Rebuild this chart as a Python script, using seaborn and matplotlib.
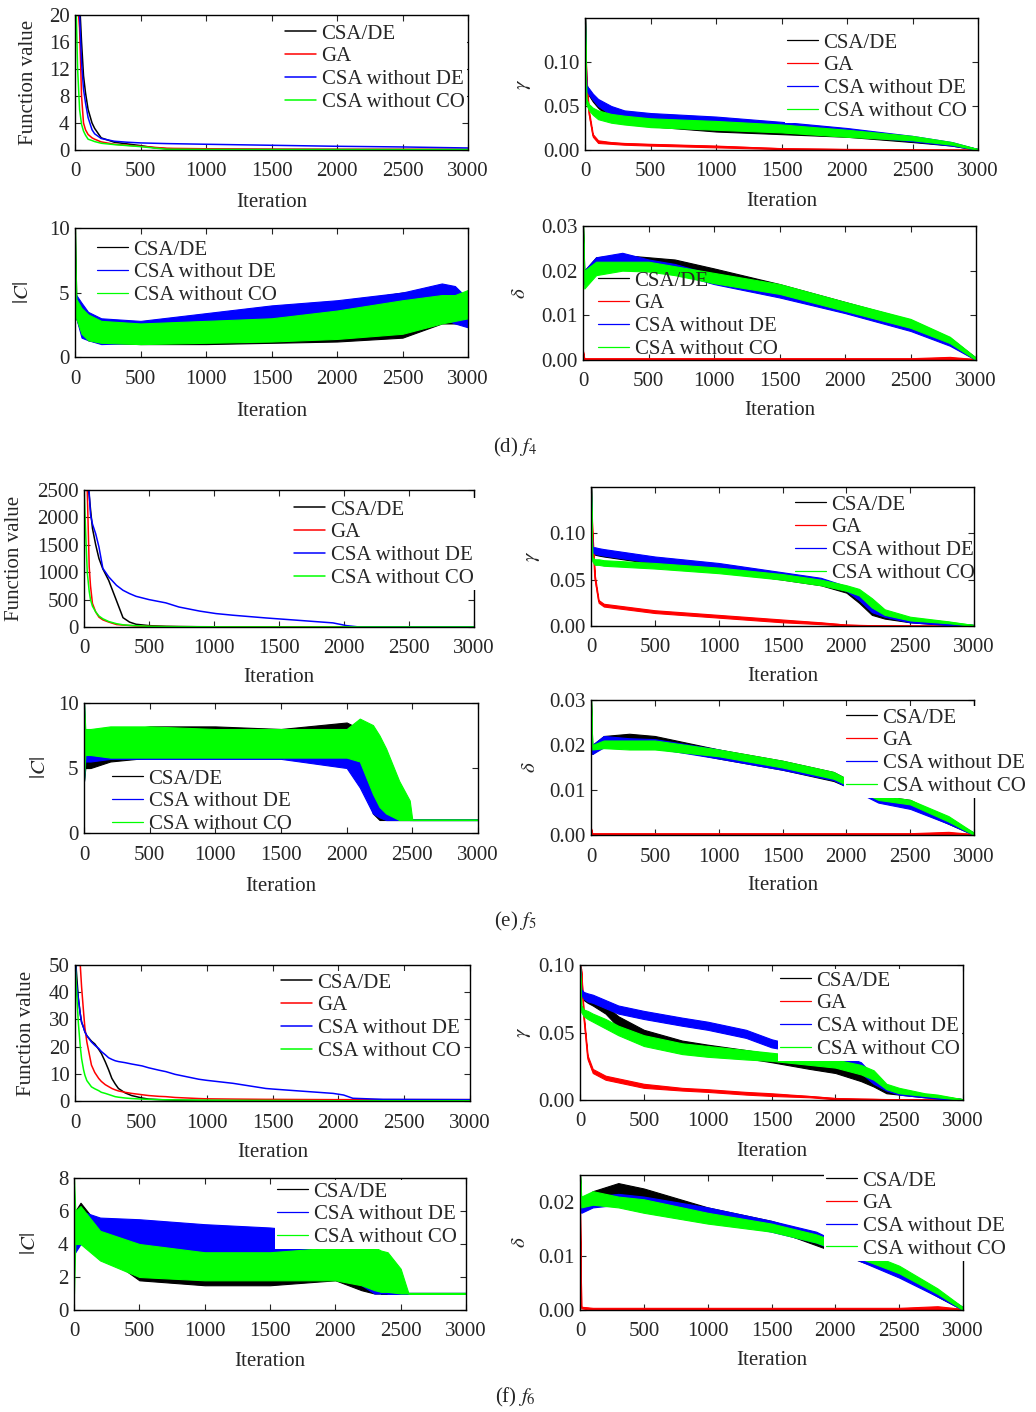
import matplotlib
matplotlib.use("Agg")
import matplotlib.pyplot as plt
import matplotlib.ticker as mticker
import pandas as pd
import seaborn as sns

# ---------------- data ----------------
# f4 : function value (smooth curves)
f4_fv_x = [0, 10, 20, 35, 50, 65, 80, 100, 130, 150, 200, 300, 400, 500, 600, 700, 1000, 1500, 2000, 2500, 3000]
f4_fv_csade = [40, 34, 28, 22, 16, 11, 8.5, 6, 4, 3.2, 1.8, 1.15, 0.9, 0.65, 0.35, 0.2, 0.1, 0.08, 0.07, 0.06, 0.06]
f4_fv_ga = [40, 30, 22, 18, 8, 4, 3, 2.3, 1.8, 1.6, 1.2, 0.85, 0.7, 0.55, 0.4, 0.25, 0.18, 0.12, 0.1, 0.1, 0.1]
f4_fv_nde = [40, 32, 26, 20, 13, 9, 7, 4.8, 3, 2.4, 1.7, 1.3, 1.15, 1.05, 1.0, 0.95, 0.85, 0.7, 0.55, 0.45, 0.3]
f4_fv_nco = [40, 20, 12, 6, 3.8, 2.8, 2.2, 1.6, 1.4, 1.25, 1.0, 0.8, 0.65, 0.5, 0.3, 0.12, 0.08, 0.06, 0.06, 0.06, 0.06]

# f4 : gamma (noisy, stored as (low, high) envelope)
f4_gam_x = [0, 10, 30, 60, 100, 200, 300, 500, 1000, 1500, 2000, 2500, 2800, 3000]
f4_gam_csade = [(0.15, 0.15), (0.07, 0.075), (0.062, 0.068), (0.055, 0.062), (0.048, 0.056), (0.035, 0.046), (0.03, 0.042),
                (0.027, 0.038), (0.021, 0.032), (0.018, 0.028), (0.015, 0.022), (0.009, 0.014), (0.005, 0.008), (0, 0.001)]
f4_gam_ga = [(0.15, 0.15), (0.08, 0.085), (0.04, 0.045), (0.015, 0.018), (0.008, 0.011), (0.007, 0.009), (0.006, 0.008),
             (0.005, 0.007), (0.003, 0.005), (0.001, 0.002), (0.0003, 0.001), (0, 0.0005), (0, 0.0003), (0, 0.0002)]
f4_gam_nde = [(0.15, 0.15), (0.068, 0.073), (0.063, 0.07), (0.057, 0.064), (0.05, 0.058), (0.04, 0.05), (0.034, 0.045),
              (0.031, 0.042), (0.027, 0.038), (0.022, 0.032), (0.017, 0.025), (0.01, 0.016), (0.005, 0.009), (0, 0.001)]
f4_gam_nco = [(0.15, 0.15), (0.052, 0.058), (0.045, 0.052), (0.04, 0.048), (0.035, 0.045), (0.031, 0.041), (0.029, 0.039),
              (0.026, 0.036), (0.023, 0.033), (0.02, 0.029), (0.015, 0.023), (0.011, 0.016), (0.006, 0.009), (0, 0.001)]

# f4 : |C|
f4_c_x = [0, 10, 50, 100, 200, 500, 1000, 1500, 2000, 2500, 2800, 2900, 3000]
f4_c_csade = [(3, 10), (3, 4.5), (1.8, 4), (1.3, 3.3), (1.1, 2.8), (1.0, 2.6), (1.0, 2.8), (1.1, 3.5), (1.2, 4.2),
              (1.5, 5.0), (2.6, 5.0), (2.6, 4.5), (2.6, 4.0)]
f4_c_nde = [(3, 5), (3, 4.8), (1.5, 4.2), (1.3, 3.5), (1.0, 3.0), (1.1, 2.8), (1.2, 3.4), (1.5, 4.0), (1.9, 4.4),
            (2.4, 5.0), (3.0, 5.7), (2.6, 5.5), (2.3, 4.5)]
f4_c_nco = [(3, 10), (3, 4.5), (1.8, 3.8), (1.3, 3.3), (1.1, 2.8), (1.0, 2.6), (1.1, 2.8), (1.2, 3.0), (1.4, 3.6),
            (1.8, 4.4), (2.6, 4.8), (2.8, 4.8), (3.0, 5.2)]

# f4 : delta
f4_del_x = [0, 10, 100, 300, 500, 700, 1000, 1500, 2000, 2500, 2800, 3000]
f4_del_csade = [(0.03, 0.03), (0.018, 0.02), (0.02, 0.023), (0.021, 0.0235), (0.021, 0.023), (0.0205, 0.0225),
                (0.018, 0.0205), (0.015, 0.017), (0.011, 0.013), (0.007, 0.009), (0.0035, 0.005), (0, 0.0005)]
f4_del_ga = [(0.002, 0.002), (0, 0.0004), (0, 0.0004), (0, 0.0004), (0, 0.0004), (0, 0.0004),
             (0, 0.0004), (0, 0.0004), (0, 0.0004), (0, 0.0004), (0, 0.0007), (0, 0.0002)]
f4_del_nde = [(0.02, 0.02), (0.017, 0.02), (0.021, 0.023), (0.021, 0.024), (0.0205, 0.0225), (0.0195, 0.0215),
              (0.017, 0.019), (0.014, 0.016), (0.0105, 0.0125), (0.0065, 0.0085), (0.0032, 0.0045), (0, 0.0005)]
f4_del_nco = [(0.03, 0.03), (0.016, 0.02), (0.019, 0.022), (0.02, 0.022), (0.0198, 0.022), (0.019, 0.021),
              (0.0172, 0.0195), (0.0148, 0.017), (0.011, 0.013), (0.0072, 0.0092), (0.0038, 0.0052), (0, 0.0005)]

# f5 : function value
f5_fv_x = [0, 10, 25, 40, 50, 65, 90, 115, 145, 190, 250, 300, 350, 400, 500, 630, 730, 890, 1015, 1145, 1400,
           1660, 1915, 2020, 2110, 2500, 3000]
f5_fv_csade = [3000, 2900, 2700, 2400, 2150, 1800, 1500, 1250, 1060, 850, 480, 170, 90, 50, 25, 12, 8, 5, 4, 3, 2,
               2, 2, 2, 2, 2, 2]
f5_fv_ga = [3000, 2800, 2500, 1100, 750, 430, 275, 180, 130, 90, 45, 35, 28, 20, 12, 8, 6, 4, 3, 2, 2, 1, 1, 1, 1, 1, 1]
f5_fv_nde = [3000, 2900, 2700, 2450, 2050, 1880, 1700, 1460, 1070, 915, 760, 670, 610, 560, 500, 440, 365, 290, 245,
             215, 165, 120, 75, 25, 2, 2, 2]
f5_fv_nco = [2600, 1900, 1000, 650, 500, 380, 275, 200, 150, 100, 60, 40, 30, 25, 12, 8, 6, 4, 3, 2, 2, 1, 1, 1, 1, 1, 1]

# f5 : gamma
f5_gam_x = [0, 10, 30, 60, 100, 500, 1000, 1500, 1800, 2000, 2100, 2200, 2300, 2500, 2800, 3000]
f5_gam_csade = [(0.15, 0.15), (0.08, 0.083), (0.077, 0.083), (0.076, 0.082), (0.075, 0.081), (0.067, 0.073),
                (0.06, 0.066), (0.05, 0.056), (0.044, 0.05), (0.036, 0.042), (0.025, 0.034), (0.012, 0.018),
                (0.008, 0.012), (0.004, 0.007), (0.001, 0.003), (0, 0.001)]
f5_gam_ga = [(0.15, 0.15), (0.10, 0.105), (0.05, 0.055), (0.025, 0.028), (0.021, 0.024), (0.014, 0.017),
             (0.009, 0.012), (0.004, 0.007), (0.002, 0.004), (0.0005, 0.0015), (0.0003, 0.001), (0, 0.0006),
             (0, 0.0005), (0, 0.0004), (0, 0.0003), (0, 0.0002)]
f5_gam_nde = [(0.15, 0.15), (0.08, 0.085), (0.078, 0.085), (0.077, 0.084), (0.076, 0.083), (0.068, 0.075),
              (0.062, 0.068), (0.052, 0.058), (0.046, 0.052), (0.038, 0.043), (0.028, 0.036), (0.015, 0.022),
              (0.01, 0.014), (0.004, 0.007), (0.001, 0.003), (0, 0.001)]
f5_gam_nco = [(0.15, 0.15), (0.07, 0.074), (0.066, 0.072), (0.066, 0.072), (0.065, 0.071), (0.062, 0.068),
              (0.057, 0.063), (0.05, 0.056), (0.044, 0.05), (0.038, 0.044), (0.033, 0.04), (0.02, 0.03),
              (0.012, 0.018), (0.006, 0.01), (0.003, 0.005), (0, 0.001)]

# f5 : |C|
f5_c_x = [0, 10, 50, 200, 500, 1000, 1500, 2000, 2100, 2200, 2250, 2300, 2400, 2480, 2500, 3000]
f5_c_csade = [(4, 10), (5, 7), (5, 7), (5.5, 7.8), (5.8, 8.2), (5.8, 8.2), (5.8, 8), (5.8, 8.5), (4.5, 8),
              (1.5, 5.5), (1, 3), (1, 1), (1, 1), (1, 1), (1, 1), (1, 1)]
f5_c_nde = [(4, 10), (5.5, 6.5), (5.5, 7), (5.7, 7.5), (5.7, 7.5), (5.7, 7.6), (5.7, 7.6), (5, 7.5), (3.5, 7.5),
            (1.5, 5), (1.2, 4), (1, 3), (1, 1.5), (1, 1), (1, 1), (1, 1)]
f5_c_nco = [(4, 10), (6, 8), (6, 8), (5.8, 8.2), (5.8, 8.2), (5.8, 8), (5.8, 8), (5.8, 8), (5.5, 8.8), (3, 8.3),
            (2, 7.5), (1.5, 6.5), (1, 4), (1, 2.5), (1, 1), (1, 1)]

# f5 : delta
f5_del_x = [0, 10, 100, 300, 500, 1000, 1500, 1900, 2250, 2500, 2800, 3000]
f5_del_csade = [(0.03, 0.03), (0.018, 0.02), (0.02, 0.022), (0.02, 0.0225), (0.0198, 0.022), (0.017, 0.019),
                (0.0145, 0.0165), (0.012, 0.014), (0.0078, 0.0088), (0.0062, 0.0078), (0.0025, 0.0035), (0, 0.0005)]
f5_del_ga = [(0.0015, 0.0015), (0, 0.0004), (0, 0.0004), (0, 0.0004), (0, 0.0004), (0, 0.0004),
             (0, 0.0004), (0, 0.0004), (0, 0.0004), (0, 0.0004), (0, 0.0007), (0, 0.0002)]
f5_del_nde = [(0.02, 0.02), (0.018, 0.02), (0.0195, 0.022), (0.0195, 0.0215), (0.0193, 0.0213), (0.017, 0.019),
              (0.0145, 0.016), (0.0122, 0.0135), (0.0072, 0.0085), (0.0058, 0.0074), (0.0025, 0.0035), (0, 0.0005)]
f5_del_nco = [(0.03, 0.03), (0.019, 0.02), (0.0193, 0.021), (0.019, 0.021), (0.019, 0.021), (0.0175, 0.019),
              (0.015, 0.0165), (0.0125, 0.014), (0.0078, 0.0088), (0.0068, 0.0078), (0.003, 0.0042), (0, 0.0005)]

# f6 : function value
f6_fv_x = [0, 10, 25, 40, 50, 65, 75, 90, 125, 150, 180, 200, 230, 255, 280, 305, 330, 380, 430, 510, 560, 640,
           690, 760, 940, 1000, 1200, 1450, 1500, 1700, 1960, 2040, 2110, 2340, 3000]
f6_fv_csade = [60, 48, 38, 32, 29, 27, 25.5, 24, 22, 21, 19, 17.5, 14.4, 11.5, 8.3, 6.3, 4.6, 3, 2, 1.1, 0.7, 0.5,
               0.4, 0.3, 0.2, 0.2, 0.15, 0.1, 0.1, 0.1, 0.1, 0.1, 0.1, 0.1, 0.1]
f6_fv_ga = [120, 100, 75, 50, 42, 32.7, 27, 21.7, 13.2, 10.5, 8.3, 7.2, 6, 5.3, 4.6, 4.1, 3.7, 3.2, 2.8, 2.3, 2,
            1.7, 1.6, 1.3, 0.9, 0.8, 0.7, 0.6, 0.6, 0.55, 0.5, 0.5, 0.5, 0.5, 0.5]
f6_fv_nde = [60, 44, 37.6, 32, 29, 27, 25.4, 24, 21.7, 20.5, 19.3, 18.2, 17, 15.9, 15.3, 14.8, 14.5, 14.1, 13.6,
             12.9, 12.2, 11.3, 10.8, 9.8, 8, 7.6, 6.5, 4.6, 4.4, 3.7, 2.8, 2.2, 1.0, 0.6, 0.5]
f6_fv_nco = [52, 42, 29, 20, 15.6, 11.5, 9.5, 7.5, 5.2, 4.5, 3.8, 3.2, 2.8, 2.4, 2, 1.6, 1.4, 1.1, 0.9, 0.7, 0.6,
             0.5, 0.45, 0.4, 0.3, 0.3, 0.25, 0.2, 0.2, 0.15, 0.1, 0.1, 0.1, 0.1, 0.1]

# f6 : gamma
f6_gam_x = [0, 10, 30, 60, 100, 200, 300, 500, 800, 1000, 1300, 1500, 1800, 2000, 2200, 2300, 2400, 2500, 2700,
            2800, 3000]
f6_gam_csade = [(0.10, 0.10), (0.077, 0.08), (0.074, 0.079), (0.072, 0.078), (0.070, 0.076), (0.064, 0.070),
                (0.054, 0.062), (0.045, 0.052), (0.038, 0.044), (0.035, 0.041), (0.031, 0.037), (0.028, 0.034),
                (0.023, 0.029), (0.020, 0.026), (0.014, 0.019), (0.01, 0.014), (0.005, 0.009), (0.004, 0.007),
                (0.002, 0.004), (0.0015, 0.003), (0, 0.0005)]
f6_gam_ga = [(0.10, 0.10), (0.095, 0.097), (0.06, 0.063), (0.03, 0.033), (0.02, 0.023), (0.015, 0.018),
             (0.013, 0.016), (0.009, 0.012), (0.007, 0.009), (0.006, 0.008), (0.004, 0.006), (0.003, 0.005),
             (0.002, 0.003), (0.0005, 0.0015), (0.0002, 0.001), (0.0002, 0.0008), (0, 0.0006), (0, 0.0005),
             (0, 0.0004), (0, 0.0003), (0, 0.0002)]
f6_gam_nde = [(0.10, 0.10), (0.078, 0.082), (0.075, 0.080), (0.073, 0.079), (0.072, 0.078), (0.068, 0.074),
              (0.064, 0.070), (0.060, 0.066), (0.055, 0.061), (0.052, 0.058), (0.046, 0.052), (0.039, 0.045),
              (0.034, 0.038), (0.030, 0.035), (0.020, 0.028), (0.012, 0.018), (0.007, 0.011), (0.004, 0.008),
              (0.002, 0.004), (0.001, 0.003), (0, 0.0005)]
f6_gam_nco = [(0.10, 0.10), (0.065, 0.07), (0.062, 0.067), (0.06, 0.066), (0.058, 0.064), (0.053, 0.060),
              (0.048, 0.055), (0.040, 0.048), (0.034, 0.042), (0.032, 0.040), (0.030, 0.037), (0.029, 0.035),
              (0.026, 0.032), (0.024, 0.030), (0.019, 0.026), (0.015, 0.022), (0.008, 0.012), (0.005, 0.009),
              (0.003, 0.005), (0.002, 0.004), (0, 0.0005)]

# f6 : |C|
f6_c_x = [0, 10, 50, 200, 500, 1000, 1500, 2000, 2200, 2300, 2350, 2400, 2500, 2560, 3000]
f6_c_csade = [(4, 6), (4, 6), (4.5, 6.5), (3.5, 5), (1.8, 3.5), (1.5, 3.5), (1.5, 3.5), (1.8, 3.5), (1.2, 3),
              (1, 2), (1, 1), (1, 1), (1, 1), (1, 1), (1, 1)]
f6_c_nde = [(3.5, 5.5), (3.5, 5.5), (4, 6), (3.6, 5.6), (3.3, 5.5), (3.3, 5.2), (3.2, 5.0), (3.0, 4.6), (1.5, 4),
            (1, 2.5), (1, 1.5), (1, 1), (1, 1), (1, 1), (1, 1)]
f6_c_nco = [(1, 8), (4, 6), (4, 6.3), (3, 4.8), (2, 4), (1.8, 3.5), (1.8, 3.5), (1.8, 3.8), (1.5, 3.8), (1.2, 3.8),
            (1.1, 3.6), (1.1, 3.5), (1, 2.5), (1, 1), (1, 1)]

# f6 : delta
f6_del_x = [0, 10, 100, 300, 500, 1000, 1500, 1850, 2200, 2500, 2800, 3000]
f6_del_csade = [(0.025, 0.025), (0.019, 0.02), (0.02, 0.022), (0.021, 0.0235), (0.0205, 0.0225), (0.017, 0.019),
                (0.015, 0.0165), (0.012, 0.014), (0.009, 0.01), (0.0065, 0.0075), (0.0025, 0.0035), (0, 0.0005)]
f6_del_ga = [(0.019, 0.019), (0.0003, 0.0006), (0, 0.0004), (0, 0.0004), (0, 0.0004), (0, 0.0004),
             (0, 0.0004), (0, 0.0004), (0, 0.0004), (0, 0.0004), (0, 0.0007), (0, 0.0002)]
f6_del_nde = [(0.019, 0.02), (0.018, 0.02), (0.019, 0.021), (0.0195, 0.0215), (0.019, 0.021), (0.017, 0.019),
              (0.0145, 0.0165), (0.0125, 0.0145), (0.009, 0.0105), (0.006, 0.0075), (0.0025, 0.0035), (0, 0.0005)]
f6_del_nco = [(0.025, 0.025), (0.019, 0.021), (0.0195, 0.022), (0.019, 0.021), (0.018, 0.0205), (0.016, 0.018),
              (0.0145, 0.016), (0.0125, 0.014), (0.0095, 0.011), (0.0068, 0.0082), (0.003, 0.004), (0, 0.0005)]

NAMES = ["CSA/DE", "GA", "CSA without DE", "CSA without CO"]
COLORS = {"CSA/DE": "#000000", "GA": "#ff0000", "CSA without DE": "#0000ff", "CSA without CO": "#00ff00"}

# ---------------- style ----------------
sns.set_style("ticks")
plt.rcParams["font.family"] = ["Liberation Serif", "DejaVu Serif"]
plt.rcParams["mathtext.fontset"] = "stix"
plt.rcParams["font.size"] = 15
plt.rcParams["axes.linewidth"] = 1.0

FS = 15
W, H = 1036, 1412
fig = plt.figure(figsize=(W / 100, H / 100), dpi=100)


def make_axes(box):
    x0, y0, x1, y1 = box
    return fig.add_axes([x0 / W, 1 - y1 / H, (x1 - x0) / W, (y1 - y0) / H])


def smooth(ax, x, y, name, z):
    sns.lineplot(x=x, y=y, ax=ax, color=COLORS[name], lw=1.1, label=name, errorbar=None, zorder=z)


def noisy(ax, x, pairs, name, z):
    lo = [p[0] for p in pairs]
    hi = [p[1] for p in pairs]
    df = pd.DataFrame({"it": list(x) + list(x), "val": lo + hi})
    sns.lineplot(data=df, x="it", y="val", ax=ax, color=COLORS[name], lw=0.9, label=name,
                 errorbar=("pi", 100), err_kws={"alpha": 1, "linewidth": 0.8, "zorder": z}, zorder=z)


def finish(ax, box, ylim, yticks, fmt, ylabel, ylab_px, xlab_py, leg_px, opaque=True):
    x0, y0, x1, y1 = box
    ax.set_xlim(0, 3000)
    ax.set_xticks(range(0, 3001, 500))
    ax.set_ylim(*ylim)
    ax.set_yticks(yticks)
    ax.yaxis.set_major_formatter(mticker.FormatStrFormatter(fmt))
    ax.tick_params(direction="in", top=True, right=True, length=4, width=0.8, labelsize=FS)
    ax.tick_params(axis="x", pad=9)
    ax.tick_params(axis="y", pad=4)
    for s in ax.spines.values():
        s.set_visible(True)
        s.set_color("black")
    ax.set_ylabel(ylabel, fontsize=FS)
    ax.yaxis.set_label_coords((ylab_px - x0) / (x1 - x0), 0.5)
    ax.set_xlabel("Iteration", fontsize=FS)
    ax.xaxis.set_label_coords(0.5, (y1 - (xlab_py - 8)) / (y1 - y0))
    handles, labels = ax.get_legend_handles_labels()
    hx, hy = leg_px
    ax.legend(handles, labels, loc="upper left",
              bbox_to_anchor=((hx - 2) / W, 1 - (hy - 9) / H), bbox_transform=fig.transFigure,
              frameon=opaque, facecolor="white", edgecolor="none", framealpha=1, fancybox=False,
              borderpad=0.1, borderaxespad=0, handlelength=1.5, handletextpad=0.25,
              labelspacing=0.15, fontsize=FS)


# ---------------- f4 ----------------
box = (75, 15, 468, 150)
ax = make_axes(box)
for i, (name, y) in enumerate(zip(NAMES, [f4_fv_csade, f4_fv_ga, f4_fv_nde, f4_fv_nco])):
    smooth(ax, f4_fv_x, y, name, 2 + i * 0.1)
finish(ax, box, (0, 20), range(0, 21, 4), "%d", "Function value", 38, 201, (285, 31))

box = (585, 18, 978, 150)
ax = make_axes(box)
for i, (name, y) in enumerate(zip(NAMES, [f4_gam_csade, f4_gam_ga, f4_gam_nde, f4_gam_nco])):
    noisy(ax, f4_gam_x, y, name, 2 + i * 0.1)
finish(ax, box, (0, 0.15), [0, 0.05, 0.10], "%.2f", r"$\gamma$", 533, 200, (787, 40))

box = (75, 228, 468, 357)
ax = make_axes(box)
for i, (name, y) in enumerate(zip([NAMES[0], NAMES[2], NAMES[3]], [f4_c_csade, f4_c_nde, f4_c_nco])):
    noisy(ax, f4_c_x, y, name, 2 + i * 0.1)
finish(ax, box, (0, 10), [0, 5, 10], "%d", r"$|C|$", 33, 410, (97, 247), opaque=False)

box = (583, 226, 976, 360)
ax = make_axes(box)
for i, (name, y) in enumerate(zip(NAMES, [f4_del_csade, f4_del_ga, f4_del_nde, f4_del_nco])):
    noisy(ax, f4_del_x, y, name, 2 + i * 0.1)
finish(ax, box, (0, 0.03), [0, 0.01, 0.02, 0.03], "%.2f", r"$\delta$", 530, 409, (598, 278), opaque=False)

fig.text(515 / W, 1 - 447 / H, r"(d) $f_4$", ha="center", va="center", fontsize=FS)

# ---------------- f5 ----------------
box = (84, 490, 474, 627)
ax = make_axes(box)
for i, (name, y) in enumerate(zip(NAMES, [f5_fv_csade, f5_fv_ga, f5_fv_nde, f5_fv_nco])):
    smooth(ax, f5_fv_x, y, name, 2 + i * 0.1)
finish(ax, box, (0, 2500), range(0, 2501, 500), "%d", "Function value", 24, 676, (294, 507))

box = (591, 487, 974, 626)
ax = make_axes(box)
for i, (name, y) in enumerate(zip(NAMES, [f5_gam_csade, f5_gam_ga, f5_gam_nde, f5_gam_nco])):
    noisy(ax, f5_gam_x, y, name, 2 + i * 0.1)
finish(ax, box, (0, 0.15), [0, 0.05, 0.10], "%.2f", r"$\gamma$", 542, 675, (795, 502), opaque=False)

box = (84, 703, 478, 833)
ax = make_axes(box)
for i, (name, y) in enumerate(zip([NAMES[0], NAMES[2], NAMES[3]], [f5_c_csade, f5_c_nde, f5_c_nco])):
    noisy(ax, f5_c_x, y, name, 2 + i * 0.1)
finish(ax, box, (0, 10), [0, 5, 10], "%d", r"$|C|$", 50, 885, (112, 776), opaque=False)

box = (591, 700, 974, 835)
ax = make_axes(box)
for i, (name, y) in enumerate(zip(NAMES, [f5_del_csade, f5_del_ga, f5_del_nde, f5_del_nco])):
    noisy(ax, f5_del_x, y, name, 2 + i * 0.1)
finish(ax, box, (0, 0.03), [0, 0.01, 0.02, 0.03], "%.2f", r"$\delta$", 540, 884, (846, 715))

fig.text(515 / W, 1 - 921 / H, r"(e) $f_5$", ha="center", va="center", fontsize=FS)

# ---------------- f6 ----------------
box = (75, 965, 470, 1101)
ax = make_axes(box)
for i, (name, y) in enumerate(zip(NAMES, [f6_fv_csade, f6_fv_ga, f6_fv_nde, f6_fv_nco])):
    smooth(ax, f6_fv_x, y, name, 2 + i * 0.1)
finish(ax, box, (0, 50), range(0, 51, 10), "%d", "Function value", 36, 1151, (281, 980))

box = (580, 965, 963, 1100)
ax = make_axes(box)
for i, (name, y) in enumerate(zip(NAMES, [f6_gam_csade, f6_gam_ga, f6_gam_nde, f6_gam_nco])):
    noisy(ax, f6_gam_x, y, name, 2 + i * 0.1)
finish(ax, box, (0, 0.10), [0, 0.05, 0.10], "%.2f", r"$\gamma$", 533, 1150, (780, 978))

box = (74, 1178, 466, 1310)
ax = make_axes(box)
for i, (name, y) in enumerate(zip([NAMES[0], NAMES[2], NAMES[3]], [f6_c_csade, f6_c_nde, f6_c_nco])):
    noisy(ax, f6_c_x, y, name, 2 + i * 0.1)
finish(ax, box, (0, 8), range(0, 9, 2), "%d", r"$|C|$", 40, 1360, (277, 1189))

box = (580, 1175, 963, 1310)
ax = make_axes(box)
for i, (name, y) in enumerate(zip(NAMES, [f6_del_csade, f6_del_ga, f6_del_nde, f6_del_nco])):
    noisy(ax, f6_del_x, y, name, 2 + i * 0.1)
finish(ax, box, (0, 0.025), [0, 0.01, 0.02], "%.2f", r"$\delta$", 530, 1359, (826, 1178))

fig.text(515 / W, 1 - 1397 / H, r"(f) $f_6$", ha="center", va="center", fontsize=FS)

fig.savefig("out.png", dpi=100, facecolor="white")
